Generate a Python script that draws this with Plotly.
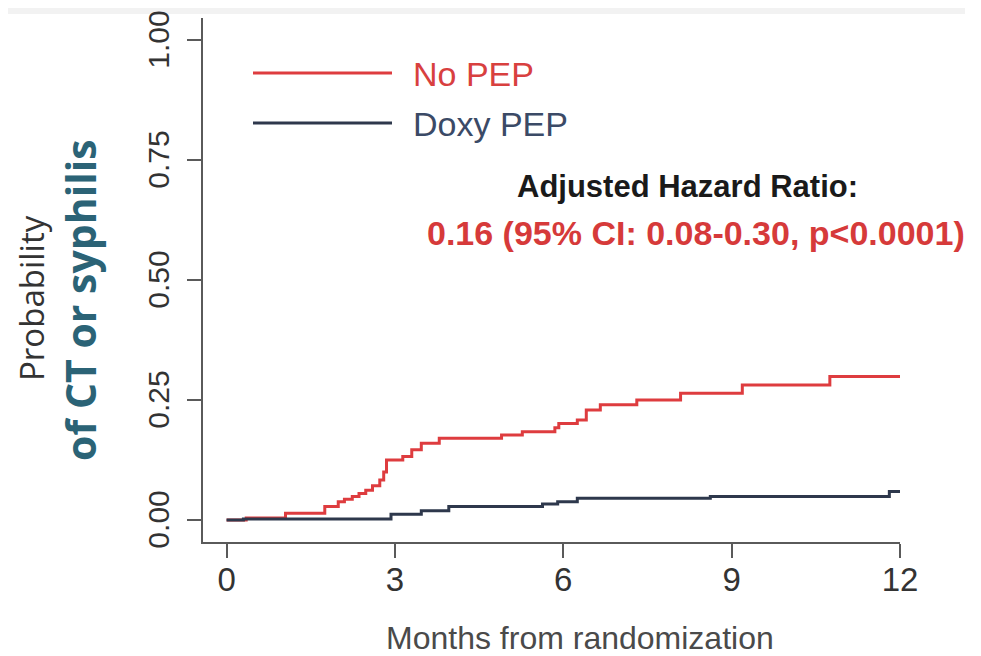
import plotly.graph_objects as go

# Kaplan-Meier style cumulative incidence
no_pep_months = [0, 0.35, 1.05, 1.75, 1.99, 2.10, 2.24, 2.36, 2.48, 2.60, 2.73, 2.80, 2.85,
                 3.14, 3.30, 3.47, 3.79, 4.90, 5.27, 5.85, 5.92, 6.25, 6.41, 6.66, 7.31,
                 8.09, 9.19, 10.75, 12.0]
no_pep_prob = [0, 0.004, 0.014, 0.028, 0.038, 0.043, 0.049, 0.055, 0.062, 0.071, 0.083, 0.100,
               0.125, 0.132, 0.146, 0.160, 0.170, 0.177, 0.184, 0.192, 0.201, 0.208, 0.229,
               0.240, 0.250, 0.264, 0.281, 0.299, 0.299]

doxy_months = [0, 0.30, 2.93, 3.47, 3.96, 5.63, 5.90, 6.25, 8.62, 11.81, 12.0]
doxy_prob = [0, 0.002, 0.012, 0.019, 0.028, 0.033, 0.038, 0.045, 0.049, 0.059, 0.059]

x_ticks = [0, 3, 6, 9, 12]
y_ticks = [0, 0.25, 0.5, 0.75, 1.0]
y_tick_text = ["0.00", "0.25", "0.50", "0.75", "1.00"]

RED = "#de3c3f"
DARK = "#2e384c"
FONT = "Liberation Sans, Arial, sans-serif"
SLIDE_FONT = "Open Sans, sans-serif"

# page body has an 8px margin, so the figure is shrunk by that much
BODY = 8
FIG_W, FIG_H = 981 - BODY, 656 - BODY
# plot region on screen: 203..900 px wide, 18..542 px tall
L, T, W, H = 203, 18, 697, 524

fig = go.Figure()
fig.add_scatter(x=no_pep_months, y=no_pep_prob, mode="lines", line_shape="hv",
                line={"color": RED, "width": 3}, name="No PEP")
fig.add_scatter(x=doxy_months, y=doxy_prob, mode="lines", line_shape="hv",
                line={"color": DARK, "width": 3}, name="Doxy PEP")


def px(xp):
    return (xp - L) / W


def py(yp):
    return (T + H - yp) / H


def note(x, y, text, font, **kw):
    fig.add_annotation(xref="paper", yref="paper", x=px(x), y=py(y), text=text,
                       showarrow=False, xanchor=kw.pop("xanchor", "center"),
                       yanchor="middle", font=font, **kw)


# hand-drawn legend, as in the base-R original
for yline, label, col, tcol in [(73, "No PEP", RED, "#d8403f"), (123, "Doxy PEP", DARK, "#3b4a66")]:
    fig.add_shape(type="line", xref="paper", yref="paper", x0=px(253), x1=px(392),
                  y0=py(yline), y1=py(yline), line={"color": col, "width": 3})
    note(411, yline + 1, label, {"family": FONT, "size": 34, "color": tcol}, xanchor="left")

note(687, 187, "<b>Adjusted Hazard Ratio:</b>", {"family": FONT, "size": 31, "color": "#1a1a1a"})
note(696, 233, "<b>0.16 (95% CI: 0.08-0.30, p&lt;0.0001)</b>",
     {"family": FONT, "size": 34, "color": "#d63a3a"})

# axis titles
note(580, 638, "Months from randomization", {"family": FONT, "size": 32, "color": "#4a4a4a"})
note(31, 298, "Probability", {"family": SLIDE_FONT, "size": 33, "color": "#333333"},
     textangle=-90)
note(80, 300, "<b>of CT or syphilis</b>", {"family": SLIDE_FONT, "size": 41, "color": "#2b6376"},
     textangle=-90)

# faint slide band at the top
fig.add_shape(type="rect", xref="paper", yref="paper", x0=px(0), x1=px(965), y0=py(14),
              y1=py(-10), fillcolor="#f2f2f2", line={"width": 0}, layer="below")

axis_style = dict(showline=True, linecolor="#5a5a5a", linewidth=2, ticks="outside",
                  ticklen=14, tickwidth=2, tickcolor="#5a5a5a", showgrid=False,
                  zeroline=False, automargin=False, ticklabeloverflow="allow")

fig.update_xaxes(range=[-0.42, 12.0], tickvals=x_ticks, ticklabelstandoff=-7,
                 tickfont={"family": FONT, "size": 33, "color": "#333333"}, **axis_style)
fig.update_yaxes(range=[-0.046, 1.046], tickvals=y_ticks, ticktext=y_tick_text,
                 tickangle=-90, ticklabelstandoff=6, ticklabelshift=4,
                 tickfont={"family": FONT, "size": 30, "color": "#333333"}, **axis_style)

fig.update_layout(width=FIG_W, height=FIG_H, showlegend=False,
                  margin={"l": L - BODY, "r": FIG_W - (L - BODY) - W, "t": T - BODY,
                          "b": FIG_H - (T - BODY) - H},
                  plot_bgcolor="white", paper_bgcolor="white")

fig.write_html("out.html")
